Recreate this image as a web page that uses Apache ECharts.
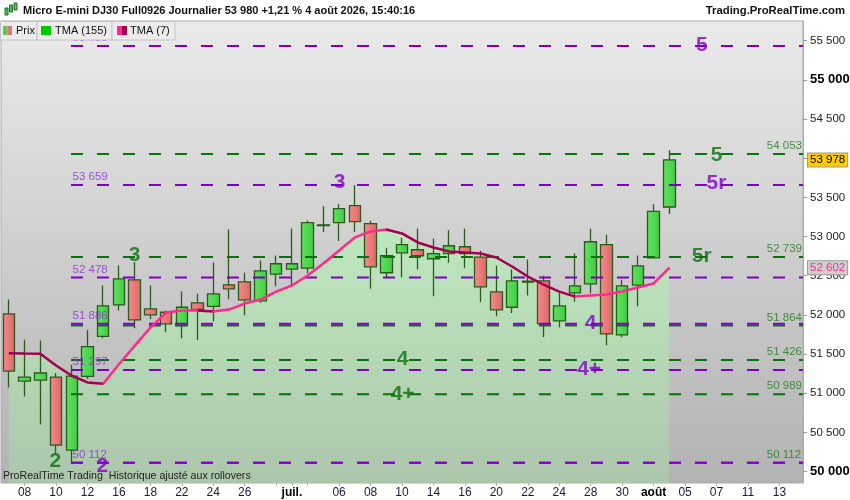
<!DOCTYPE html>
<html>
<head>
<meta charset="utf-8">
<script src="https://cdn.jsdelivr.net/npm/echarts@6/dist/echarts.min.js"></script>
<style>
  html, body { margin: 0; padding: 0; background: #fff; }
  #chart { width: 850px; height: 500px; }
</style>
</head>
<body>
<div id="chart"></div>
<script>
// séances (jour du mois, début de mois = nom du mois)
var dates = ['05','08','09','10','11','12','15','16','17','18','19','22','23','24','25','26','29','30',
  'juil.','02','03','06','07','08','09','10','13','14','15','16','17','20','21','22','23','24','27','28','29','30','31',
  'août','04','05','06','07','10','11','12','13','14'];

// OHLC journaliers
var opens  = [52013,51156,51169,51207,50274,51215,51727,52128,52448,52077,52034,51863,52154,52110,52384,52422,52179,52520,52584,52596,53140,53177,53394,53164,52538,52793,52832,52717,52781,52870,52737,52294,52098,52430,52435,51924,52282,52397,52896,51745,52379,52729,53377];
var highs  = [52196,51684,51672,51259,51365,51812,52375,52631,52673,52375,52055,52302,52269,52669,53091,52538,52695,52759,53104,53206,53386,53411,53654,53203,52857,52985,53104,52976,53079,53104,52819,52631,52580,52708,52499,52289,52784,53100,53024,52448,52759,53411,54102];
var lows   = [51074,50959,50601,50223,50115,51186,51701,52055,51829,51949,51778,51701,51681,51919,52200,51995,52154,52366,52384,52532,53057,52942,53057,52333,52474,52481,52584,52238,52665,52596,52162,51982,52026,52247,51719,51842,52167,52277,51612,51714,52110,52720,53287];
var closes = [51284,51207,51259,50338,51220,51595,52115,52461,51936,52000,51885,52098,52072,52269,52333,52192,52563,52653,52653,53177,53150,53356,53190,52614,52755,52896,52755,52781,52883,52781,52358,52064,52435,52418,51885,52115,52371,52934,51757,52371,52627,53322,53978];

// TMA (7)
var tma = [51512,51508,51505,51355,51224,51138,51122,51371,51605,51838,52030,52055,52055,52043,52068,52145,52196,52298,52375,52503,52656,52823,52989,53066,53091,53040,52925,52861,52810,52797,52784,52733,52618,52490,52388,52298,52234,52247,52260,52298,52349,52401,52602];

// niveaux
var purpleLevels = [55433, 53659, 52478, 51886, 51297, 50112];
var greenLevels  = [54053, 52739, 51864, 51426, 50989, 50112];

// repères de vagues : texte, couleur, séance, niveau
var waveText  = ['2', '2', '3', '3', '4', '4+', '4', '4+', '5', '5', '5r', '5r'];
var waveColor = ['g', 'p', 'g', 'p', 'g', 'g', 'p', 'p', 'p', 'g', 'p', 'g'];
var waveDay   = [2.96, 5.95, 7.99, 21.03, 25.04, 25.04, 37.0, 36.9, 44.06, 45.0, 45.0, 44.06];
var waveLevel = [50137, 50073, 52759, 53692, 51441, 50994, 51889, 51301, 55438, 54040, 53680, 52752];

var yTicks = [50000, 50500, 51000, 51500, 52000, 52500, 53000, 53500, 54000, 54500, 55000, 55500];

var FONT = '"Liberation Sans", Arial, sans-serif';
var PURPLE = '#8000c8';
var GREEN = '#0a720a';
var PINK = '#ff2a8d';
var MAROON = '#a3004f';

function fmt(v) {
  return String(Math.round(v)).replace(/\B(?=(\d{3})+(?!\d))/g, ' ');
}

var chart = echarts.init(document.getElementById('chart'));

var candleData = opens.map(function (o, i) {
  return [o, closes[i], lows[i], highs[i]];
});

// couleur de la TMA selon la pente
var tmaPieces = [];
for (var i = 1; i < tma.length; i++) {
  var piece = { gte: i - 1, color: tma[i] >= tma[i - 1] ? PINK : MAROON };
  if (i === tma.length - 1) piece.lte = i; else piece.lt = i;
  tmaPieces.push(piece);
}

var monthStart = dates.map(function (d) { return !/^\d+$/.test(d); });
function showLabel(idx) {
  if (monthStart[idx]) return true;
  if (monthStart[idx - 1] || monthStart[idx + 1]) return false;
  return idx % 2 === 1;
}

var LEVEL_START = 3.95, LEVEL_END = 50.5;
var LEFT_LABEL = 4.05, RIGHT_LABEL = 48.2;

var series = [];

// zone sous la TMA
series.push({
  type: 'line',
  data: tma,
  showSymbol: false,
  silent: true,
  lineStyle: { width: 0 },
  areaStyle: {
    opacity: 1,
    color: new echarts.graphic.LinearGradient(0, 0, 0, 1, [
      { offset: 0, color: '#bee8be' },
      { offset: 1, color: '#acc6ac' }
    ])
  },
  z: 1
});

var priceLabel = {
  show: true, position: 'end', distance: 5,
  formatter: function (p) { return fmt(p.value); },
  borderColor: '#9a9a9a', borderWidth: 1, padding: [1, 2, 0, 2],
  fontSize: 11.5, fontFamily: FONT
};

// chandeliers
series.push({
  type: 'candlestick',
  data: candleData,
  barWidth: 12,
  itemStyle: {
    color: new echarts.graphic.LinearGradient(0, 0, 1, 0, [
      { offset: 0, color: '#62e262' },
      { offset: 1, color: '#40cc40' }
    ]),
    color0: new echarts.graphic.LinearGradient(0, 0, 1, 0, [
      { offset: 0, color: '#f48e8e' },
      { offset: 1, color: '#e06464' }
    ]),
    borderColor: '#2c5a1c',
    borderColor0: '#2c5a1c',
    borderWidth: 1.3
  },
  markLine: {
    symbol: 'none',
    silent: true,
    animation: false,
    lineStyle: { color: 'rgba(0,0,0,0)', width: 1, type: 'solid' },
    data: [
      { yAxis: closes[closes.length - 1],
        label: Object.assign({}, priceLabel, { backgroundColor: '#ffcc00', color: '#000' }) },
      { yAxis: tma[tma.length - 1],
        label: Object.assign({}, priceLabel, { backgroundColor: '#cfcfcf', color: PINK }) }
    ]
  },
  z: 3
});

// niveaux (vert dessous, violet dessus)
greenLevels.forEach(function (v) {
  series.push({
    type: 'line', xAxisIndex: 1, data: [[LEVEL_START, v], [LEVEL_END, v]],
    showSymbol: false, silent: true,
    lineStyle: { color: GREEN, width: 2, type: [12, 14] }, z: 4
  });
});
purpleLevels.forEach(function (v) {
  series.push({
    type: 'line', xAxisIndex: 1, data: [[LEVEL_START, v], [LEVEL_END, v]],
    showSymbol: false, silent: true,
    lineStyle: { color: PURPLE, width: 2, type: [12, 14] }, z: 5
  });
});

// ligne TMA (7)
series.push({
  type: 'line',
  data: tma,
  showSymbol: false,
  silent: true,
  lineStyle: { width: 2.5 },
  z: 6
});
var tmaIndex = series.length - 1;

// étiquettes de prix des niveaux
function levelLabels(levels, x, color) {
  return {
    type: 'scatter', xAxisIndex: 1, symbolSize: 0, silent: true,
    itemStyle: { color: 'rgba(0,0,0,0)' },
    data: levels.map(function (v) { return [x, v]; }),
    label: {
      show: true, position: 'top', align: 'left', distance: 2,
      formatter: function (p) { return fmt(p.value[1]); },
      color: color, fontSize: 11.5, fontFamily: FONT
    },
    z: 7
  };
}
series.push(levelLabels(purpleLevels, LEFT_LABEL, '#8a30d0'));
series.push(levelLabels(greenLevels, RIGHT_LABEL, '#1f7a1f'));

// repères de vagues
series.push({
  type: 'scatter', xAxisIndex: 1, symbolSize: 0, silent: true,
  itemStyle: { color: 'rgba(0,0,0,0)' },
  data: waveText.map(function (t, i) {
    return {
      value: [waveDay[i], waveLevel[i]],
      label: { formatter: t, color: waveColor[i] === 'g' ? GREEN : PURPLE }
    };
  }),
  label: { show: true, position: 'inside', fontSize: 21, fontWeight: 'bold', fontFamily: FONT },
  z: 8
});

var option = {
  backgroundColor: '#ffffff',
  animation: false,
  textStyle: { fontFamily: FONT },
  grid: {
    left: 1, right: 47, top: 21, bottom: 17,
    outerBoundsMode: 'none',
    containLabel: false,
    show: true,
    backgroundColor: new echarts.graphic.LinearGradient(0, 0, 0, 1, [
      { offset: 0, color: '#eaeaea' },
      { offset: 1, color: '#b2b2b2' }
    ]),
    borderColor: '#ababab',
    borderWidth: 1
  },
  xAxis: [{
    type: 'category',
    data: dates,
    boundaryGap: true,
    axisLine: { show: false },
    axisTick: { show: true, alignWithLabel: true, length: 3, lineStyle: { color: '#b0b0b0' },
      interval: function (idx) { return idx % 2 === 1 || monthStart[idx]; } },
    axisLabel: {
      interval: function (idx) { return showLabel(idx); },
      margin: 4,
      fontSize: 12,
      color: '#1a1a33',
      formatter: function (v) { return /^\d+$/.test(v) ? v : '{m|' + v + '}'; },
      rich: { m: { fontWeight: 'bold', fontSize: 12, color: '#000', fontFamily: FONT } }
    },
    splitLine: { show: false }
  }, {
    type: 'value',
    min: -0.5, max: 50.5,
    show: false
  }],
  yAxis: {
    type: 'value',
    position: 'right',
    min: 49855, max: 55751,
    scale: true,
    axisLine: { show: true, onZero: false, lineStyle: { color: '#ababab' } },
    axisTick: { show: true, length: 4, lineStyle: { color: '#999' }, customValues: yTicks },
    axisLabel: {
      customValues: yTicks,
      margin: 7,
      fontSize: 11.5,
      color: '#222',
      formatter: function (v) {
        return (v === 50000 || v === 55000) ? '{b|' + fmt(v) + '}' : fmt(v);
      },
      rich: { b: { fontWeight: 'bold', fontSize: 13, color: '#000', fontFamily: FONT } }
    },
    splitLine: { show: false }
  },
  visualMap: {
    show: false,
    type: 'piecewise',
    seriesIndex: tmaIndex,
    dimension: 0,
    pieces: tmaPieces,
    outOfRange: { color: MAROON }
  },
  graphic: [
    // en-tête
    { type: 'rect', shape: { x: 5, y: 8, width: 3, height: 7 }, style: { fill: '#4cc24c', stroke: '#2c6a2c' }, z: 100 },
    { type: 'rect', shape: { x: 9.5, y: 5, width: 3, height: 7 }, style: { fill: '#4cc24c', stroke: '#2c6a2c' }, z: 100 },
    { type: 'rect', shape: { x: 14, y: 3, width: 3, height: 7 }, style: { fill: '#4cc24c', stroke: '#2c6a2c' }, z: 100 },
    { type: 'text', x: 23, y: 11, z: 100, style: { text: 'Micro E-mini DJ30 Full0926 Journalier 53 980 +1,21 % 4 août 2026, 15:40:16',
      fontFamily: FONT, fontSize: 11, fontWeight: 'bold', fill: '#111', verticalAlign: 'middle' } },
    { type: 'text', x: 845, y: 11, z: 100, style: { text: 'Trading.ProRealTime.com',
      fontFamily: FONT, fontSize: 11.3, fontWeight: 'bold', fill: '#111', align: 'right', verticalAlign: 'middle' } },
    // légende
    { type: 'rect', shape: { x: 0.5, y: 21.5, width: 36.5, height: 18.5 }, style: { fill: '#ececec', stroke: '#c4c4c4' }, z: 100 },
    { type: 'rect', shape: { x: 3, y: 26, width: 4.5, height: 9 }, style: { fill: '#5cc85c' }, z: 101 },
    { type: 'rect', shape: { x: 7.5, y: 26, width: 4.5, height: 9 }, style: { fill: '#e57373' }, z: 101 },
    { type: 'text', x: 16, y: 31, z: 101, style: { text: 'Prix', fontFamily: FONT, fontSize: 11, fill: '#111', verticalAlign: 'middle' } },
    { type: 'rect', shape: { x: 37, y: 21.5, width: 75, height: 18.5 }, style: { fill: '#ececec', stroke: '#c4c4c4' }, z: 100 },
    { type: 'rect', shape: { x: 41, y: 26, width: 10, height: 9 }, style: { fill: '#00c800' }, z: 101 },
    { type: 'text', x: 55, y: 31, z: 101, style: { text: 'TMA (155)', fontFamily: FONT, fontSize: 11, fill: '#111', verticalAlign: 'middle' } },
    { type: 'rect', shape: { x: 112, y: 21.5, width: 63, height: 18.5 }, style: { fill: '#ececec', stroke: '#c4c4c4' }, z: 100 },
    { type: 'rect', shape: { x: 117, y: 26, width: 5, height: 9 }, style: { fill: PINK }, z: 101 },
    { type: 'rect', shape: { x: 122, y: 26, width: 5, height: 9 }, style: { fill: MAROON }, z: 101 },
    { type: 'text', x: 130, y: 31, z: 101, style: { text: 'TMA (7)', fontFamily: FONT, fontSize: 11, fill: '#111', verticalAlign: 'middle' } },
    // pied
    { type: 'text', x: 3, y: 476, z: 100, style: { text: 'ProRealTime Trading  Historique ajusté aux rollovers',
      fontFamily: FONT, fontSize: 10.6, fill: '#222', verticalAlign: 'middle' } }
  ],
  series: series
};

chart.setOption(option);
</script>
</body>
</html>
